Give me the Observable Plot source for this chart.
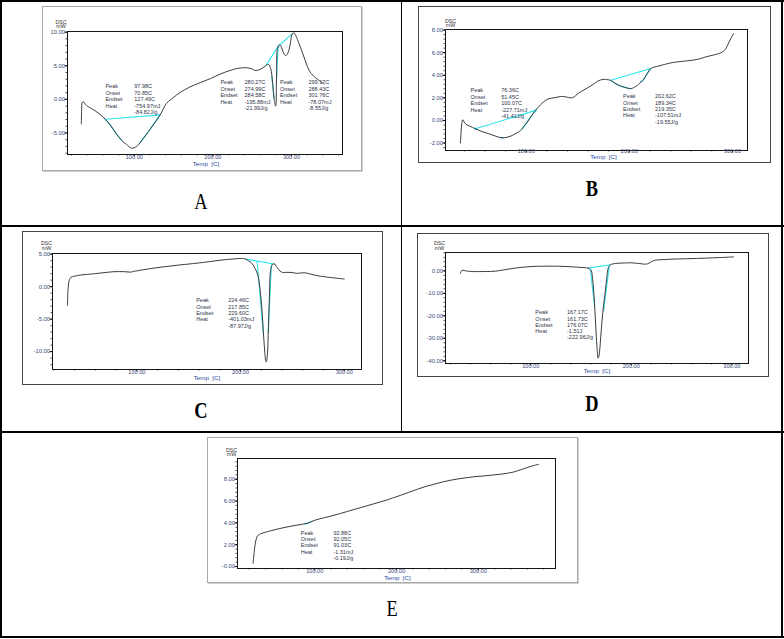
<!DOCTYPE html>
<html><head><meta charset="utf-8">
<script src="https://cdn.jsdelivr.net/npm/d3@7"></script>
<script src="https://cdn.jsdelivr.net/npm/@observablehq/plot@0.6"></script>
<style>
body{margin:0;background:#fff;}
#page{position:relative;width:784px;height:639px;overflow:hidden;font-family:"Liberation Sans",Arial,sans-serif;background:#fff;}
.rule{position:absolute;background:#000;}
.box{position:absolute;box-sizing:border-box;}
.plot{position:absolute;}
.letter{position:absolute;font-family:"Liberation Serif","Times New Roman",serif;font-size:23px;transform:translate(-50%,-50%) scaleX(0.8);line-height:1;color:#000;}
</style></head><body><div id="page"></div>
<script>
// ---------- DATA ----------
const rowNames = ["Peak", "Onset", "Endset", "Heat", ""];
const xTicks = [100, 200, 300];
const xLabels = ["100.00", "200.00", "300.00"];

// Panel A
const A_curve = [[32.6,-3.65],[33.0,-1.5],[33.6,-0.5],[35,-0.35],[39,-0.9],[47.5,-1.5],[55,-2.1],[63,-2.95],[70,-3.9],[77,-5.1],[84,-6.1],[90,-6.7],[96.6,-7.26],[103,-7.0],[107,-6.5],[111.5,-5.8],[118,-4.8],[124,-3.8],[133,-2.3],[141,-0.6],[150,0.3],[158,1.0],[170,1.8],[184,2.5],[197,3.1],[210,3.8],[222,4.3],[231,4.6],[244,4.7],[250,4.5],[254,4.3],[260,4.45],[265,4.8],[270.6,5.2],[273.6,4.6],[276,2.5],[278,0],[280,-1.0],[281,3.0],[283,7.9],[285.5,8.1],[288,7.5],[290,6.9],[292.7,6.5],[295,6.8],[297,7.4],[299,8.6],[301,9.75],[303.4,9.9],[305.5,9.5],[307.7,8.9],[312,7.6],[316,6.3],[322.6,4.3],[328,3.5],[333,3.0],[341.8,2.3]];
const A_cyan = [[[63,-2.95],[133,-2.3]],[[63,-2.95],[70,-3.9],[77,-5.1],[84,-6.1]],[[107,-6.5],[111.5,-5.8],[118,-4.8],[124,-3.8],[133,-2.3]],[[268,5.1],[283,7.9]],[[283,7.9],[301,9.75]],[[275,3.5],[278,0.2]],[[281,3.0],[283,7.9]]];
const A_yTicks = [-5, 0, 5, 10];
const A_yLabels = ["-5.00", "0.00", "5.00", "10.00"];
const A_notes = [["97.98C","70.85C","127.49C","-754.97mJ","-84.82J/g"],["280.27C","274.99C","284.58C","-195.88mJ","-21.99J/g"],["299.17C","288.43C","301.76C","-78.07mJ","-8.55J/g"]];

// Panel B
const B_curve = [[36.2,-2.0],[36.8,-1.0],[37.5,-0.3],[38.5,0.06],[41,-0.3],[45,-0.5],[50.8,-0.74],[57,-0.98],[63.8,-1.18],[70,-1.38],[76.7,-1.54],[82,-1.47],[86.4,-1.33],[90,-1.15],[94.5,-0.89],[98,-0.5],[101,-0.15],[105,0.4],[109,0.89],[114,1.4],[118.8,1.78],[122,1.92],[126.9,2.0],[131,2.08],[135,2.13],[140,2.05],[144.7,2.0],[148,2.2],[151,2.43],[156,2.7],[160.8,2.96],[165,3.2],[169,3.46],[172,3.58],[175.4,3.64],[178,3.62],[181.9,3.55],[186,3.3],[190,3.1],[195,2.95],[201.3,2.81],[204,2.9],[207.8,3.1],[210,3.3],[213.3,3.55],[217,4.1],[220.7,4.59],[224,4.72],[228.8,4.82],[235,4.98],[241.7,5.12],[250,5.22],[261.2,5.33],[268,5.45],[274,5.62],[282,5.8],[288.7,5.98],[291,6.1],[292.9,6.27],[295,6.6],[296.8,6.95],[299,7.35],[301,7.69]];
const B_cyan = [[[50.8,-0.74],[109,0.89]],[[96,-0.75],[98,-0.5],[101,-0.15],[105,0.4],[109,0.89]],[[181.9,3.55],[220.7,4.59]],[[181.9,3.55],[186,3.3],[190,3.1],[195,2.95],[201.3,2.81]],[[211,3.4],[213.3,3.55],[217,4.1],[220.7,4.59]]];
const B_dots = [[50.8,-0.74],[76.7,-1.54],[109,0.89]];
const B_yTicks = [-2, 0, 2, 4, 6, 8];
const B_yLabels = ["-2.00", "0.00", "2.00", "4.00", "6.00", "8.00"];
const B_notes = [["76.36C","51.45C","100.07C","-227.71mJ","-41.41J/g"],["202.62C","189.34C","219.35C","-107.51mJ","-19.55J/g"]];

// Panel C
const C_curve = [[33.1,-2.9],[33.4,-1.0],[34.1,0.4],[35,1.1],[36.3,1.43],[40,1.62],[46,1.79],[60,2.0],[78,2.3],[88,2.3],[94.2,2.24],[97,2.35],[100.6,2.45],[112,2.75],[126.4,3.06],[142,3.35],[158.5,3.62],[170,3.85],[181,4.08],[192,4.25],[200.3,4.34],[203,4.32],[205,4.23],[208,3.95],[211.6,3.47],[214,2.8],[216.4,1.94],[218,0.6],[219.6,-1.63],[221,-4.3],[221.9,-6.7],[222.8,-8.8],[223.5,-10.3],[224.2,-11.3],[224.8,-11.6],[225.4,-11.2],[226,-10.3],[226.7,-7.5],[227.3,-4.2],[228,-1.0],[228.6,1.94],[229.5,2.9],[230.5,3.3],[231.8,3.5],[233.1,3.47],[234.5,3.1],[235.7,2.86],[238,2.4],[240.5,2.19],[244,2.2],[248.6,2.19],[252,2.1],[255,2.04],[258,2.1],[261.4,2.14],[266,2.0],[271,1.79],[276,1.63],[280.7,1.53],[290,1.35],[300,1.17]];
const C_cyan = [[[205,4.23],[232.5,3.48]],[[216,3.9],[222,-7.2]],[[226.7,-7.0],[229.8,3.4]]];
const C_yTicks = [-10, -5, 0, 5];
const C_yLabels = ["-10.00", "-5.00", "0.00", "5.00"];
const C_notes = [["224.46C","217.85C","229.60C","-401.03mJ","-87.97J/g"]];

// Panel D
const D_curve = [[30.1,-1.2],[31,0.0],[32.5,0.3],[35,0],[41.7,-0.3],[55,-0.3],[64.9,-0.15],[73,0.4],[81.5,1.04],[92,1.6],[101.3,1.93],[112,2.05],[124.5,2.07],[133,1.95],[141,1.78],[150,1.5],[157,1.19],[159,0.6],[160.3,0],[161.5,-3.5],[162.6,-8.9],[163.4,-14.5],[164.2,-20.7],[165,-27.5],[165.9,-34],[166.5,-37.5],[166.9,-38.8],[167.5,-38.5],[168.5,-35.6],[169.7,-29],[170.9,-22.2],[172.5,-15],[174.2,-8.9],[175.5,-3.5],[176.8,0.74],[178,2.0],[179.1,2.67],[182,3.1],[187.4,3.4],[194,3.5],[200.7,3.56],[207,3.3],[213.9,2.96],[216,3.1],[218.9,3.7],[221,4.3],[223.8,4.74],[230,4.95],[240.4,5.19],[256,5.4],[273.5,5.63],[288,5.9],[301.7,6.2]];
const D_cyan = [[[157,1.19],[179.1,2.67]],[[159.3,0.74],[163.6,-16.3]],[[172.5,-17.8],[178.1,2.2]]];
const D_yTicks = [-40, -30, -20, -10, 0];
const D_yLabels = ["-40.00", "-30.00", "-20.00", "-10.00", "0.00"];
const D_notes = [["167.17C","161.73C","176.07C","-1.51J","-222.96J/g"]];

// Panel E
const E_curve = [[24.6,0.3],[25.2,0.8],[25.9,1.28],[26.8,1.9],[27.9,2.35],[29.2,2.7],[30.8,2.87],[34,3.0],[38.1,3.11],[50,3.35],[62.5,3.57],[77,3.78],[91,3.97],[101.2,4.27],[112,4.48],[123.6,4.7],[140,5.05],[156.2,5.4],[170,5.7],[184.7,6.02],[195,6.27],[205.1,6.53],[215,6.8],[225.5,7.08],[235,7.32],[245.8,7.54],[256,7.74],[266.2,7.91],[276,8.04],[286.6,8.15],[296,8.24],[306.9,8.3],[317,8.38],[327.3,8.46],[336,8.55],[343.6,8.67],[352,8.87],[359.9,9.07],[367,9.24],[374.1,9.37]];
const E_cyan = [[[87.8,3.88],[92,4.0],[97,4.15]]];
const E_yTicks = [0, 2, 4, 6, 8];
const E_yLabels = ["-0.00", "2.00", "4.00", "6.00", "8.00"];
const E_notes = [["92.88C","92.05C","91.03C","-1.31mJ","-0.19J/g"]];

// ---------- LAYOUT / STYLE ----------
const tickBlue = "#3a4878", noteCol = "#2e3448", cyanCol = "#2fe2f0", lineCol = "#3c3c3c";
const panels = [
  {letter:"A", curve:A_curve, cyan:A_cyan, dots:[], yTicks:A_yTicks, yLabels:A_yLabels, notes:A_notes,
   noteAt:[[63.3,100,1.93,0.97],[209.6,240.3,2.54,0.98],[285.5,321.7,2.54,0.98]],
   box:[42,6,320,165], m:[25,20,17,25], xd:[15,365], yd:[-8.2,10.1], yMinor:1, xMinor:20,
   dsc:[-6.5,-3.5], temp:[1,10], xlab:3.2, frame:"1px solid #a8a8a8", shadow:"1px 1px 0 #d0d0d0", L:[201,201], bold:false},
  {letter:"B", curve:B_curve, cyan:B_cyan, dots:B_dots, yTicks:B_yTicks, yLabels:B_yLabels, notes:B_notes,
   noteAt:[[46,75.7,2.66,0.58],[193.9,224.9,2.13,0.57]],
   box:[418,6,353,157], m:[23,24,13,27], xd:[21.7,314.6], yd:[-2.66,8.05], yMinor:0.4, xMinor:20,
   dsc:[5,-2.5], temp:[7,6.5], xlab:1, frame:"1.5px solid #444", shadow:"none", L:[592,188], bold:true},
  {letter:"C", curve:C_curve, cyan:C_cyan, dots:[], yTicks:C_yTicks, yLabels:C_yLabels, notes:C_notes,
   noteAt:[[157.2,188.1,-2.14,0.97]],
   box:[22,231,361,154], m:[22,22,16,30], xd:[18.6,316.7], yd:[-12.75,5.1], yMinor:1, xMinor:20,
   dsc:[-6,-4], temp:[0,9], xlab:2.6, frame:"1.5px solid #444", shadow:"none", L:[201,410], bold:true},
  {letter:"D", curve:D_curve, cyan:D_cyan, dots:[], yTicks:D_yTicks, yLabels:D_yLabels, notes:D_notes,
   noteAt:[[104.6,136.1,-18.5,2.8]],
   box:[417,233,352,144], m:[19,21,14,28], xd:[15.2,316.6], yd:[-41.2,8.15], yMinor:2, xMinor:20,
   dsc:[-6,-3], temp:[0,8], xlab:2.5, frame:"1.5px solid #444", shadow:"none", L:[592,403], bold:true},
  {letter:"E", curve:E_curve, cyan:E_cyan, dots:[], yTicks:E_yTicks, yLabels:E_yLabels, notes:E_notes,
   noteAt:[[82.9,122.8,3.05,0.57]],
   box:[207,437,371,146], m:[21,23,15,30], xd:[5.5,394.5], yd:[-0.18,9.9], yMinor:0.4, xMinor:20,
   dsc:[-6,-2.5], temp:[1,9.5], xlab:3.2, frame:"1px solid #a8a8a8", shadow:"1px 1px 0 #d0d0d0", L:[392,608], bold:false}
];

const page = document.getElementById("page");
function addRule(x, y, w, h) {
  const d = document.createElement("div");
  d.className = "rule";
  Object.assign(d.style, {left: x + "px", top: y + "px", width: w + "px", height: h + "px"});
  page.appendChild(d);
}
// table grid
addRule(0, 0, 784, 2);
addRule(0, 636, 784, 2);
addRule(0, 0, 1.5, 638);
addRule(781, 0, 1.5, 638);
addRule(0, 225, 784, 1.5);
addRule(0, 431, 784, 1.5);
addRule(400.5, 0, 1.5, 432);

function makePanel(p) {
  const [bx, by, bw, bh] = p.box;
  const box = document.createElement("div");
  box.className = "box";
  Object.assign(box.style, {left: bx + "px", top: by + "px", width: bw + "px", height: bh + "px", border: p.frame, boxShadow: p.shadow});
  page.appendChild(box);

  const curve = p.curve.map(([t, v]) => ({t, v}));
  const cyan = p.cyan.flatMap((seg, i) => seg.map(([t, v]) => ({t, v, s: i})));
  const dots = p.dots.map(([t, v]) => ({t, v}));
  const notes = p.notes.flatMap((vals, b) => vals.map((val, r) => ({b, r, name: rowNames[r], val})));
  const noteY = d => p.noteAt[d.b][2] - d.r * p.noteAt[d.b][3];
  const yMinor = d3.range(Math.ceil(p.yd[0] / p.yMinor) * p.yMinor, p.yd[1], p.yMinor);
  const xMinor = d3.range(Math.ceil(p.xd[0] / p.xMinor) * p.xMinor, p.xd[1], p.xMinor);

  const svg = Plot.plot({
    width: bw, height: bh,
    marginTop: p.m[0], marginRight: p.m[1], marginBottom: p.m[2], marginLeft: p.m[3],
    style: {fontFamily: "Liberation Sans, Arial, sans-serif", fontSize: "6px", background: "transparent", overflow: "visible"},
    x: {domain: p.xd},
    y: {domain: p.yd},
    marks: [
      Plot.axisX(xMinor, {anchor: "bottom", tickSize: 1.5, tickFormat: () => "", label: null, stroke: "#222", strokeWidth: 0.8}),
      Plot.axisX(xTicks, {anchor: "bottom", tickSize: 2.5, tickFormat: () => "", label: null, stroke: "#111"}),
      Plot.axisY(yMinor, {anchor: "left", tickSize: 1.5, tickFormat: () => "", label: null, stroke: "#222", strokeWidth: 0.8}),
      Plot.axisY(p.yTicks, {anchor: "left", tickSize: 2.5, tickFormat: () => "", label: null, stroke: "#111"}),
      Plot.frame({stroke: "#151515", strokeWidth: 1}),
      Plot.text(xTicks, {x: d => d, frameAnchor: "bottom", dy: p.xlab, lineAnchor: "middle", text: (d, i) => xLabels[i], fill: tickBlue, fontSize: 5.6}),
      Plot.text(p.yTicks, {y: d => d, frameAnchor: "left", dx: -2.5, textAnchor: "end", text: (d, i) => p.yLabels[i], fill: tickBlue, fontSize: 5.8}),
      Plot.line(cyan, {x: "t", y: "v", z: "s", stroke: cyanCol, strokeWidth: 1.1}),
      Plot.dot(dots, {x: "t", y: "v", r: 1.2, fill: cyanCol}),
      Plot.line(curve, {x: "t", y: "v", stroke: lineCol, strokeWidth: 1, curve: "catmull-rom"}),
      Plot.text(notes, {x: d => p.noteAt[d.b][0], y: noteY, text: "name", textAnchor: "start", fill: noteCol, fontSize: 5.5}),
      Plot.text(notes, {x: d => p.noteAt[d.b][1], y: noteY, text: "val", textAnchor: "start", fill: noteCol, fontSize: 5.5}),
      Plot.text(["DSC\nmW"], {text: d => d, frameAnchor: "top-left", dx: p.dsc[0], dy: p.dsc[1], textAnchor: "middle", lineAnchor: "bottom", lineHeight: 0.85, fill: "#333", fontSize: 5.3}),
      Plot.text(["Temp  [C]"], {text: d => d, frameAnchor: "bottom", dx: p.temp[0], dy: p.temp[1], lineAnchor: "middle", fill: "#2b4a9e", fontSize: 6.2})
    ]
  });
  const wrap = document.createElement("div");
  wrap.className = "plot";
  Object.assign(wrap.style, {left: bx + "px", top: by + "px", width: bw + "px", height: bh + "px"});
  wrap.appendChild(svg);
  page.appendChild(wrap);

  const L = document.createElement("div");
  L.className = "letter";
  L.textContent = p.letter;
  Object.assign(L.style, {left: p.L[0] + "px", top: p.L[1] + "px", fontWeight: p.bold ? "bold" : "normal"});
  page.appendChild(L);
}
panels.forEach(makePanel);
</script></body></html>
